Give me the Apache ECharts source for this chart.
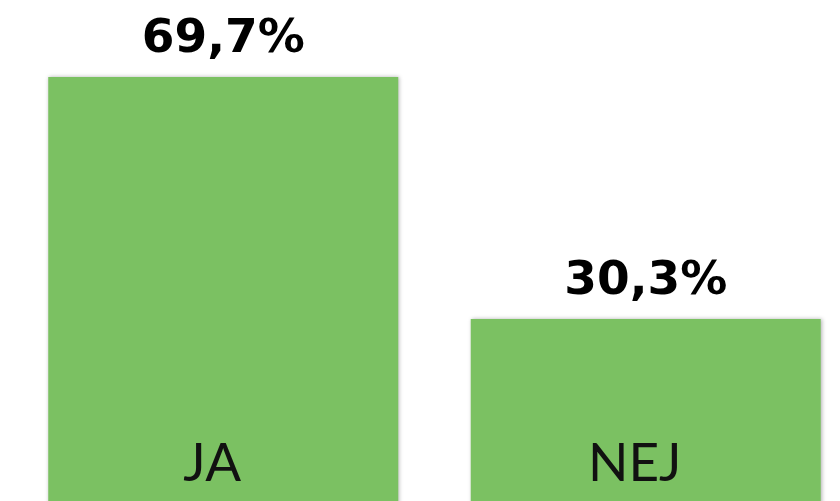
<!DOCTYPE html>
<html>
<head>
<meta charset="utf-8">
<script src="https://cdn.jsdelivr.net/npm/echarts@6/dist/echarts.min.js"></script>
<style>
  html, body { margin: 0; padding: 0; background: #fff; }
  #chart { width: 840px; height: 501px; }
</style>
</head>
<body>
<div id="chart"></div>
<script>
var categories = ['JA', 'NEJ']
var values = [69.7, 30.3]

var echart = echarts.init(document.getElementById('chart'))

var option = {
    animation: false,
    grid: {
        left: 12,
        width: 845,
        top: 77,
        height: 428,
        outerBoundsMode: 'none'
    },
    xAxis: {
        type: 'category',
        data: categories,
        z: 10,
        axisLine: { show: false },
        axisTick: { show: false },
        axisLabel: {
            margin: -15,
            verticalAlign: 'bottom',
            padding: [0, 22, 0, 0],
            fontFamily: 'Lato',
            fontSize: 53,
            color: '#111'
        }
    },
    yAxis: {
        type: 'value',
        min: 0,
        max: 69.7,
        show: false,
        splitLine: { show: false }
    },
    series: [
        {
            type: 'bar',
            data: values,
            barWidth: 350,
            itemStyle: {
                color: '#7bc162',
                shadowColor: 'rgba(0, 0, 0, 0.3)',
                shadowBlur: 4,
                shadowOffsetX: 1
            },
            label: {
                show: true,
                position: 'top',
                distance: 14,
                fontFamily: 'DejaVu Sans',
                fontWeight: 'bold',
                fontSize: 47,
                color: '#000',
                formatter: function (p) {
                    return p.value.toFixed(1).replace('.', ',') + '%'
                }
            }
        }
    ]
}

echart.setOption(option)
</script>
</body>
</html>
